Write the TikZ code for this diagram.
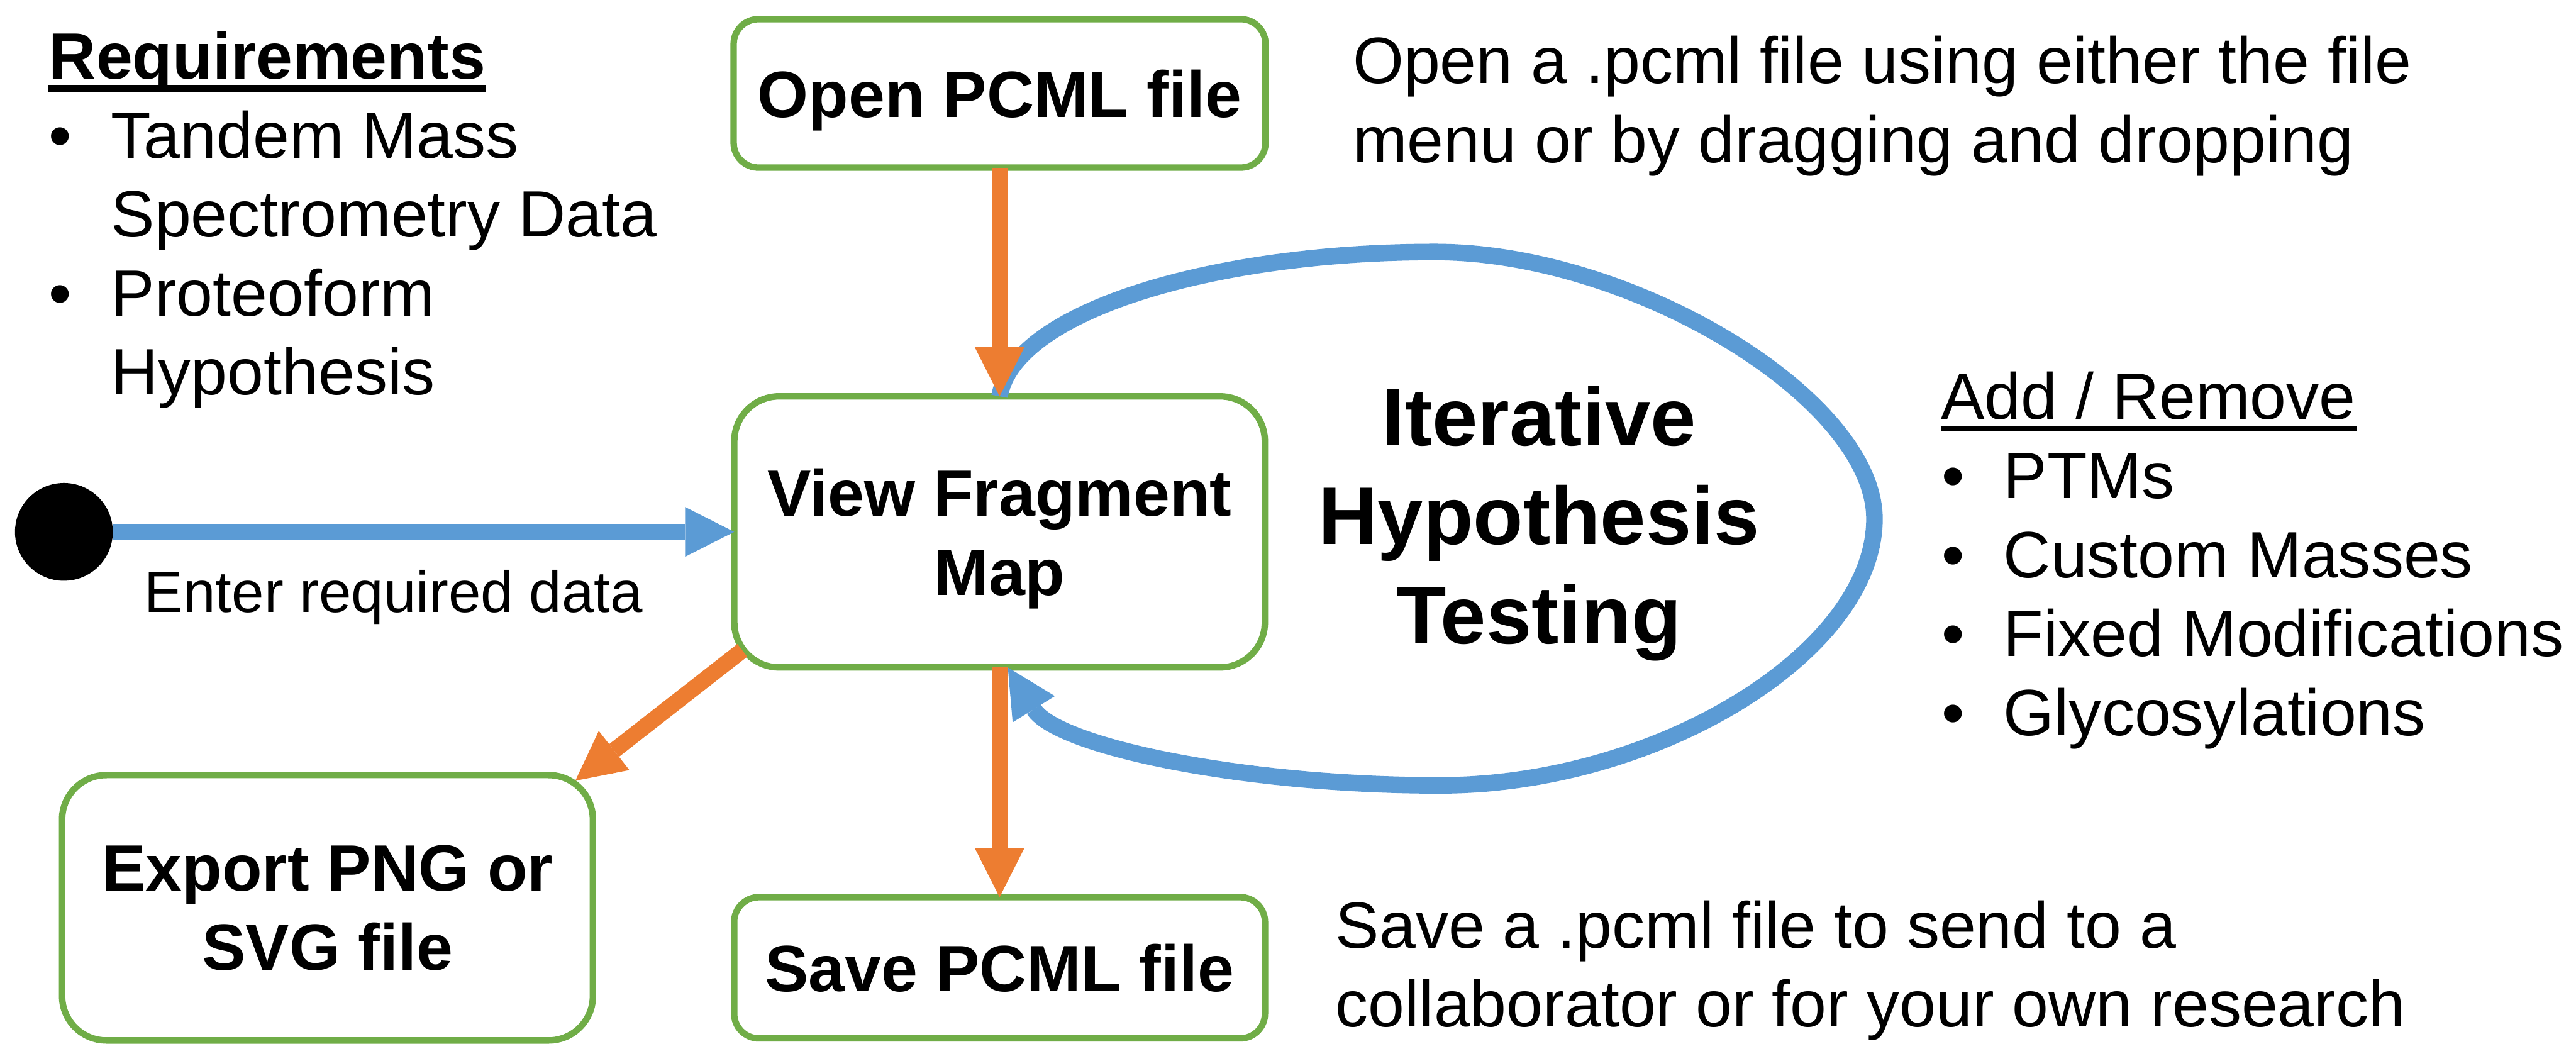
\documentclass[tikz,border=0pt]{standalone}
\usepackage{fontspec}
\setmainfont{Liberation Sans}
\usepackage{tikz}
\usetikzlibrary{arrows.meta, positioning}
\definecolor{boxgreen}{HTML}{70AD47}
\definecolor{floworange}{HTML}{ED7D31}
\definecolor{loopblue}{HTML}{5B9BD5}
\tikzset{>={Triangle[length=0.95cm, width=0.96cm, line width=0pt]},
  box/.style={draw=boxgreen, fill=white, line width=0.125cm, outer sep=0pt, inner sep=0pt,
    align=center, text depth=0pt, font=\fontsize{36}{43.4}\selectfont\bfseries},
  flow/.style={->, color=floworange, line width=0.31cm},
  iter/.style={->, color=loopblue, line width=0.32cm},
  txt/.style={inner sep=0pt, font=\fontsize{36}{43.4}\selectfont}}

\begin{document}
\begin{tikzpicture}
    \path[use as bounding box, fill=white] (0,0) rectangle (49.79,-20.17);

    \node[box, rounded corners=0.48cm, minimum width=10.28cm, minimum height=2.87cm] (openfile) at (19.32,-1.805) {Open PCML file};
    \node[box, rounded corners=0.87cm, minimum width=10.255cm, minimum height=5.24cm] (viewmap) at (19.32,-10.28) {View Fragment\\Map};
    \node[box, rounded corners=0.86cm, minimum width=10.26cm, minimum height=5.13cm] (exportfile) at (6.33,-17.545) {Export PNG or\\SVG file};
    \node[box, rounded corners=0.48cm, minimum width=10.26cm, minimum height=2.73cm] (savefile) at (19.32,-18.705) {Save PCML file};
    \node[circle, fill=black, minimum size=1.89cm, inner sep=0pt] (start) at (1.235,-10.28) {};

    % hypothesis loop
    \coordinate (looptop) at (27.73,-4.87);
    \coordinate (loopright) at (36.23,-10.03);
    \coordinate (loopbottom) at (27.82,-15.18);
    \draw[iter] (viewmap.north) .. controls (19.60,-6.00) and (23.50,-4.87) .. (looptop)
        .. controls (31.56,-4.87) and (36.23,-7.71) .. (loopright)
        .. controls (36.23,-12.61) and (32.02,-15.18) .. (loopbottom)
        .. controls (24.07,-15.18) and (20.43,-14.43) .. ([xshift=0.16cm]viewmap.south);

    \draw[iter] (start) -- node[txt, text=black, font=\fontsize{32}{38.4}\selectfont, pos=0.4515, below=0.58cm] (enterlabel) {Enter required data} (viewmap);

    \draw[flow] (openfile) -- (viewmap);
    \draw[flow] (viewmap) -- (savefile);
    \draw[flow] ([shift={(0.155,0.33)}]viewmap.south west) -- ([shift={(-0.34,-0.11)}]exportfile.north east);

    \node[font=\fontsize{45}{54.5}\selectfont\bfseries, align=center, text depth=0pt, inner sep=0pt] (iterlabel) at (29.75,-9.95) {Iterative\\Hypothesis\\Testing};

    % left and right notes
    \node[txt, font=\fontsize{36}{43.4}\selectfont\bfseries, anchor=base west] (req) at (0.94,-1.52) {Requirements};
    \draw[line width=0.14cm] ([yshift=-0.19cm]req.base west) -- ([yshift=-0.19cm]req.base east);
    \node[txt, anchor=north west] (reqlist) at (0.94,-1.98) {\begin{tabular}{@{}p{1.2cm}@{}l@{}}
        \textbullet & Tandem Mass\\ & Spectrometry Data\\ \textbullet & Proteoform\\ & Hypothesis
    \end{tabular}};

    \node[txt, anchor=base west] (addrem) at (37.51,-8.10) {Add / Remove};
    \draw[line width=0.09cm] ([yshift=-0.19cm]addrem.base west) -- ([yshift=-0.19cm]addrem.base east);
    \node[txt, anchor=north west] (addlist) at (37.52,-8.56) {\begin{tabular}{@{}p{1.2cm}@{}l@{}}
        \textbullet & PTMs\\ \textbullet & Custom Masses\\ \textbullet & Fixed Modifications\\ \textbullet & Glycosylations
    \end{tabular}};

    \node[txt, anchor=north west, align=left] (opennote) at (26.14,-0.69) {Open a .pcml file using either the file\\menu or by dragging and dropping};
    \node[txt, anchor=north west, align=left] (savenote) at (25.81,-17.40) {Save a .pcml file to send to a\\collaborator or for your own research};
\end{tikzpicture}
\end{document}
